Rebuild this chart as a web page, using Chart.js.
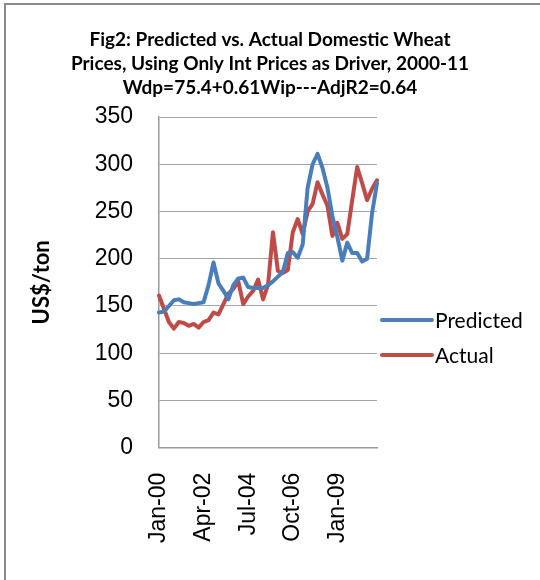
<!DOCTYPE html>
<html>
<head>
<meta charset="utf-8">
<script src="https://cdn.jsdelivr.net/npm/chart.js@4/dist/chart.umd.min.js"></script>
<style>
  html, body { margin: 0; padding: 0; background: #fff; }
  #wrap { width: 540px; height: 580px; position: relative; }
</style>
</head>
<body>
<div id="wrap"><canvas id="c" width="540" height="580"></canvas></div>
<script>
// Quarterly categories, 2000Q1 - 2011Q1
const categories = [
  'Jan-00','Apr-00','Jul-00','Oct-00',
  'Jan-01','Apr-01','Jul-01','Oct-01',
  'Jan-02','Apr-02','Jul-02','Oct-02',
  'Jan-03','Apr-03','Jul-03','Oct-03',
  'Jan-04','Apr-04','Jul-04','Oct-04',
  'Jan-05','Apr-05','Jul-05','Oct-05',
  'Jan-06','Apr-06','Jul-06','Oct-06',
  'Jan-07','Apr-07','Jul-07','Oct-07',
  'Jan-08','Apr-08','Jul-08','Oct-08',
  'Jan-09','Apr-09','Jul-09','Oct-09',
  'Jan-10','Apr-10','Jul-10','Oct-10',
  'Jan-11'
];
// Only every 9th category is labelled on the axis
const shownTickLabels = ['Jan-00','Apr-02','Jul-04','Oct-06','Jan-09'];

const predicted = [
  143,144,150,156,157,154,153,152,153,154,
  172,196,174,166,157,172,179,180,170,169,
  169,169,172,176,181,186,206,207,201,215,
  275,300,311,296,275,245,223,198,217,206,
  206,197,200,248,280
];
const actual = [
  161,147,133,126,133,132,129,131,127,133,
  135,143,141,152,163,168,176,152,160,166,
  178,157,172,228,187,185,188,228,242,226,
  250,258,281,268,256,224,238,221,226,262,
  297,280,262,274,283
];
const yTicks = { min: 0, max: 350, step: 50 };

const seriesNames = ['Predicted', 'Actual'];
const seriesColors = ['#4a7ebb', '#be4b48'];

const framePlugin = {
  id: 'frame',
  beforeDraw(chart) {
    const ctx = chart.ctx;
    ctx.save();
    ctx.fillStyle = '#ffffff';
    ctx.fillRect(0, 0, chart.width, chart.height);
    ctx.strokeStyle = '#8a8a8a';
    ctx.lineWidth = 2;
    ctx.beginPath();
    ctx.moveTo(5, chart.height + 2);
    ctx.lineTo(5, 4);
    ctx.lineTo(chart.width + 2, 4);
    ctx.stroke();
    ctx.restore();
  }
};

const legendPlugin = {
  id: 'customLegend',
  afterDraw(chart) {
    const ctx = chart.ctx;
    const x0 = chart.chartArea.right + 3;
    const ys = [320, 355];
    ctx.save();
    chart.data.datasets.forEach((ds, i) => {
      const y = ys[i];
      ctx.strokeStyle = ds.borderColor;
      ctx.lineWidth = 4;
      ctx.lineCap = 'round';
      ctx.beginPath();
      ctx.moveTo(x0 + 2, y);
      ctx.lineTo(x0 + 52, y);
      ctx.stroke();
      ctx.fillStyle = '#000';
      ctx.font = '21px Lato';
      ctx.textBaseline = 'middle';
      ctx.textAlign = 'left';
      ctx.fillText(ds.label, x0 + 55, y + 1);
    });
    ctx.restore();
  }
};

new Chart(document.getElementById('c'), {
  type: 'line',
  data: {
    labels: categories,
    datasets: [
      { label: seriesNames[0], data: predicted, borderColor: seriesColors[0], backgroundColor: seriesColors[0],
        borderWidth: 4, pointRadius: 0, tension: 0, borderJoinStyle: 'round', borderCapStyle: 'round' },
      { label: seriesNames[1], data: actual, borderColor: seriesColors[1], backgroundColor: seriesColors[1],
        borderWidth: 4, pointRadius: 0, tension: 0, borderJoinStyle: 'round', borderCapStyle: 'round' }
    ]
  },
  options: {
    responsive: false,
    animation: false,
    devicePixelRatio: 1,
    layout: { padding: { left: 0, right: 0, top: 0, bottom: 12 } },
    plugins: {
      legend: { display: false },
      tooltip: { enabled: false },
      title: {
        display: true,
        text: [
          'Fig2: Predicted vs. Actual Domestic Wheat',
          'Prices, Using Only Int Prices as Driver, 2000-11',
          'Wdp=75.4+0.61Wip---AdjR2=0.64'
        ],
        color: '#000',
        font: { family: 'Lato', size: 19, weight: 'bold', lineHeight: 24 / 19 },
        padding: { top: 28, bottom: 17 }
      }
    },
    scales: {
      x: {
        type: 'category',
        offset: false,
        grid: { display: true, color: 'rgba(0,0,0,0)', drawTicks: false },
        border: { display: true, color: '#9a9a9a', width: 1.5 },
        ticks: {
          autoSkip: false,
          minRotation: 90,
          maxRotation: 90,
          padding: 25,
          color: '#000',
          font: { family: 'Liberation Sans', size: 23 },
          callback: function(value, index) {
            const lab = this.getLabelForValue(value);
            return shownTickLabels.includes(lab) ? lab : '';
          }
        }
      },
      y: {
        min: yTicks.min,
        max: yTicks.max,
        grid: { color: '#a6a6a6', lineWidth: 1, drawTicks: false },
        border: { display: true, color: '#9a9a9a', width: 1.5 },
        ticks: {
          stepSize: yTicks.step,
          padding: 26,
          color: '#000',
          font: { family: 'Liberation Sans', size: 23 }
        },
        title: {
          display: true,
          text: 'US$/ton',
          color: '#000',
          font: { family: 'Lato', size: 22, weight: 'bold', lineHeight: 1.2 },
          padding: { top: 29, bottom: 13 }
        },
        afterFit: function(scale) { scale.width = 159; }
      },
      legendSpace: {
        type: 'linear',
        position: 'right',
        display: true,
        grid: { display: false, drawTicks: false },
        border: { display: false },
        ticks: { display: false },
        afterFit: function(scale) { scale.width = 163; }
      }
    }
  },
  plugins: [framePlugin, legendPlugin]
});
</script>
</body>
</html>
